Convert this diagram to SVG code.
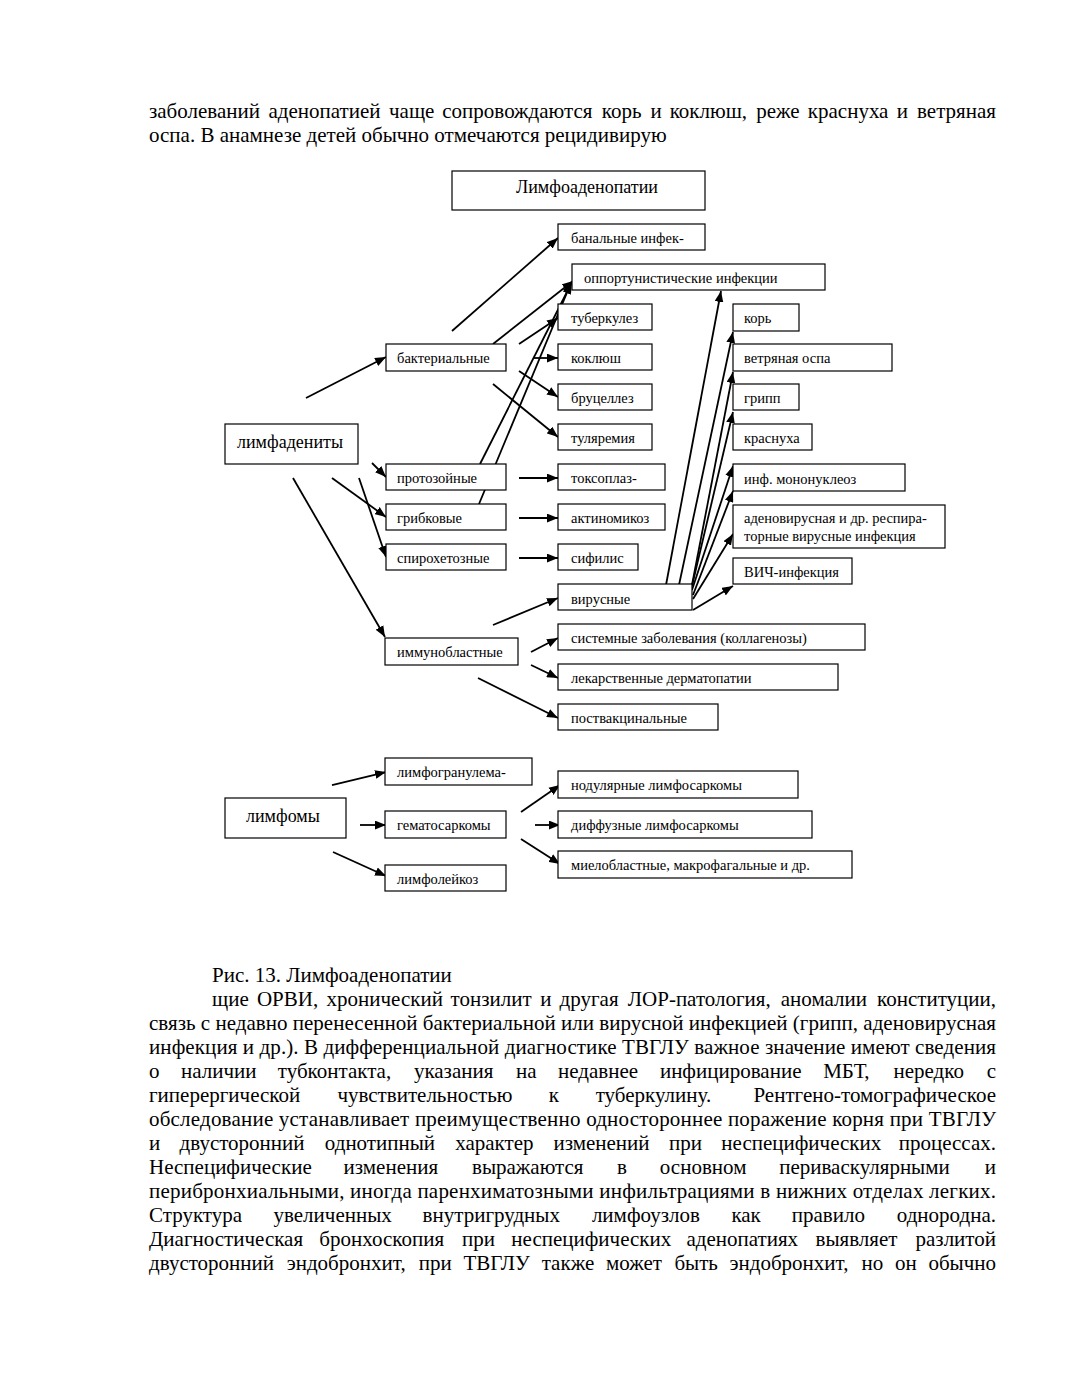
<svg xmlns="http://www.w3.org/2000/svg" width="1071" height="1386" viewBox="0 0 1071 1386">
<style>
.bx{fill:#fff;stroke:#000;stroke-width:1.2}
.lb{font-family:"Liberation Serif","Times New Roman",serif;font-size:14.5px;fill:#000}
.lb2{font-family:"Liberation Serif","Times New Roman",serif;font-size:18px;fill:#000}
.tx{font-family:"Liberation Serif","Times New Roman",serif;font-size:21px;fill:#000}
.e{text-anchor:end}
.cn line{stroke:#000;stroke-width:1.8;marker-end:url(#ah)}
</style>
<defs>
<marker id="ah" viewBox="0 0 10 8" refX="10" refY="4" markerWidth="11" markerHeight="9" markerUnits="userSpaceOnUse" orient="auto"><path d="M0,0 L10,4 L0,8 z" fill="#000"/></marker>
</defs>
<rect width="1071" height="1386" fill="#fff"/>

<g id="text-top" class="tx">
<text y="118"><tspan x="149">заболеваний</tspan><tspan x="268.4">аденопатией</tspan><tspan x="389">чаще</tspan><tspan x="442.3">сопровождаются</tspan><tspan x="601.8">корь</tspan><tspan x="650.5">и</tspan><tspan x="669.7">коклюш,</tspan><tspan x="756.2">реже</tspan><tspan x="807.8">краснуха</tspan><tspan x="896.7">и</tspan><tspan class="e" x="996">ветряная</tspan></text>
<text x="149" y="142">оспа. В анамнезе детей обычно отмечаются рецидивирую</text>
</g>

<g id="connectors" class="cn">
<line x1="452" y1="331" x2="558" y2="238"/>
<line x1="493" y1="344" x2="573" y2="281"/>
<line x1="519" y1="344" x2="558" y2="318"/>
<line x1="533" y1="358" x2="558" y2="358"/>
<line x1="519" y1="371" x2="558" y2="397"/>
<line x1="493" y1="384" x2="558" y2="437"/>
<line x1="480" y1="464" x2="572" y2="282"/>
<line x1="479" y1="504" x2="571" y2="283"/>
<line x1="306" y1="398" x2="386" y2="357"/>
<line x1="372" y1="463" x2="386" y2="477"/>
<line x1="332" y1="478" x2="386" y2="517"/>
<line x1="359" y1="478" x2="386" y2="557"/>
<line x1="293" y1="478" x2="385" y2="637"/>
<line x1="519" y1="478" x2="558" y2="478"/>
<line x1="519" y1="518" x2="558" y2="518"/>
<line x1="519" y1="558" x2="558" y2="558"/>
<line x1="493" y1="625" x2="558" y2="598"/>
<line x1="531" y1="652" x2="558" y2="638"/>
<line x1="531" y1="665" x2="558" y2="678"/>
<line x1="478" y1="678" x2="558" y2="718"/>
<line x1="666" y1="585" x2="721" y2="291"/>
<line x1="679" y1="585" x2="733" y2="332"/>
<line x1="692" y1="585" x2="733" y2="372"/>
<line x1="692" y1="586" x2="733" y2="412"/>
<line x1="692" y1="590" x2="733" y2="466"/>
<line x1="693" y1="595" x2="733" y2="491"/>
<line x1="693" y1="599" x2="733" y2="534"/>
<line x1="693" y1="610" x2="733" y2="586"/>
<line x1="332" y1="785" x2="386" y2="772"/>
<line x1="360" y1="825" x2="386" y2="825"/>
<line x1="333" y1="852" x2="386" y2="876"/>
<line x1="521" y1="812" x2="560" y2="785"/>
<line x1="535" y1="825" x2="560" y2="825"/>
<line x1="521" y1="839" x2="560" y2="864"/>
</g>

<g id="n-root"><rect class="bx" x="452" y="171" width="253" height="39"/><text class="lb2" x="516" y="193">Лимфоаденопатии</text></g>
<g id="n-banal"><rect class="bx" x="558" y="224" width="147" height="26"/><text class="lb" x="571" y="243">банальные инфек-</text></g>
<g id="n-opport"><rect class="bx" x="572" y="264" width="253" height="26"/><text class="lb" x="584" y="283">оппортунистические инфекции</text></g>
<g id="n-tuberk"><rect class="bx" x="558" y="304" width="94" height="26"/><text class="lb" x="571" y="323">туберкулез</text></g>
<g id="n-kokl"><rect class="bx" x="558" y="344" width="94" height="26"/><text class="lb" x="571" y="363">коклюш</text></g>
<g id="n-bruc"><rect class="bx" x="558" y="384" width="94" height="26"/><text class="lb" x="571" y="403">бруцеллез</text></g>
<g id="n-tular"><rect class="bx" x="558" y="424" width="94" height="26"/><text class="lb" x="571" y="443">туляремия</text></g>
<g id="n-toxo"><rect class="bx" x="558" y="464" width="107" height="26"/><text class="lb" x="571" y="483">токсоплаз-</text></g>
<g id="n-aktin"><rect class="bx" x="558" y="504" width="107" height="26"/><text class="lb" x="571" y="523">актиномикоз</text></g>
<g id="n-sifil"><rect class="bx" x="558" y="544" width="80" height="26"/><text class="lb" x="571" y="563">сифилис</text></g>
<g id="n-virus"><rect class="bx" x="558" y="584" width="134" height="26"/><text class="lb" x="571" y="604">вирусные</text></g>
<g id="n-sistem"><rect class="bx" x="558" y="624" width="307" height="26"/><text class="lb" x="571" y="643">системные заболевания (коллагенозы)</text></g>
<g id="n-lekar"><rect class="bx" x="558" y="664" width="280" height="26"/><text class="lb" x="571" y="683">лекарственные дерматопатии</text></g>
<g id="n-postvak"><rect class="bx" x="558" y="704" width="160" height="26"/><text class="lb" x="571" y="723">поствакцинальные</text></g>

<g id="n-kor"><rect class="bx" x="733" y="304" width="66" height="27"/><text class="lb" x="744" y="323">корь</text></g>
<g id="n-vetr"><rect class="bx" x="733" y="344" width="159" height="27"/><text class="lb" x="744" y="363">ветряная оспа</text></g>
<g id="n-gripp"><rect class="bx" x="733" y="384" width="66" height="26"/><text class="lb" x="744" y="403">грипп</text></g>
<g id="n-krasn"><rect class="bx" x="733" y="424" width="79" height="26"/><text class="lb" x="744" y="443">краснуха</text></g>
<g id="n-mono"><rect class="bx" x="733" y="464" width="172" height="27"/><text class="lb" x="744" y="484">инф. мононуклеоз</text></g>
<g id="n-adeno"><rect class="bx" x="733" y="505" width="212" height="43"/><text class="lb" x="744" y="523">аденовирусная и др. респира-</text><text class="lb" x="744" y="541">торные вирусные инфекция</text></g>
<g id="n-vich"><rect class="bx" x="733" y="558" width="119" height="26"/><text class="lb" x="744" y="577">ВИЧ-инфекция</text></g>

<g id="n-limfad"><rect class="bx" x="225" y="424" width="133" height="40"/><text class="lb2" x="237" y="448">лимфадениты</text></g>
<g id="n-bakt"><rect class="bx" x="386" y="344" width="120" height="27"/><text class="lb" x="397" y="363">бактериальные</text></g>
<g id="n-proto"><rect class="bx" x="386" y="464" width="120" height="26"/><text class="lb" x="397" y="483">протозойные</text></g>
<g id="n-grib"><rect class="bx" x="386" y="504" width="120" height="26"/><text class="lb" x="397" y="523">грибковые</text></g>
<g id="n-spiro"><rect class="bx" x="386" y="544" width="120" height="26"/><text class="lb" x="397" y="563">спирохетозные</text></g>
<g id="n-immuno"><rect class="bx" x="385" y="638" width="133" height="27"/><text class="lb" x="397" y="657">иммунобластные</text></g>

<g id="n-limfomy"><rect class="bx" x="225" y="798" width="121" height="40"/><text class="lb2" x="246" y="822">лимфомы</text></g>
<g id="n-limfogr"><rect class="bx" x="385" y="758" width="147" height="27"/><text class="lb" x="397" y="777">лимфогранулема-</text></g>
<g id="n-gemat"><rect class="bx" x="385" y="811" width="121" height="27"/><text class="lb" x="397" y="830">гематосаркомы</text></g>
<g id="n-limfol"><rect class="bx" x="385" y="865" width="121" height="26"/><text class="lb" x="397" y="884">лимфолейкоз</text></g>
<g id="n-nodul"><rect class="bx" x="558" y="771" width="240" height="27"/><text class="lb" x="571" y="790">нодулярные лимфосаркомы</text></g>
<g id="n-diff"><rect class="bx" x="558" y="811" width="254" height="27"/><text class="lb" x="571" y="830">диффузные лимфосаркомы</text></g>
<g id="n-mielo"><rect class="bx" x="558" y="851" width="294" height="27"/><text class="lb" x="571" y="870">миелобластные, макрофагальные и др.</text></g>

<g id="text-bottom" class="tx">
<text x="212" y="982">Рис. 13. Лимфоаденопатии</text>
<text y="1006"><tspan x="212">щие</tspan><tspan x="256.9">ОРВИ,</tspan><tspan x="326.5">хронический</tspan><tspan x="450.6">тонзилит</tspan><tspan x="540.2">и</tspan><tspan x="559.6">другая</tspan><tspan x="627.8">ЛОР-патология,</tspan><tspan x="780.8">аномалии</tspan><tspan class="e" x="996">конституции,</tspan></text>
<text x="149" y="1030" textLength="847" lengthAdjust="spacing">связь с недавно перенесенной бактериальной или вирусной инфекцией (грипп, аденовирусная</text>
<text x="149" y="1054" textLength="847" lengthAdjust="spacing">инфекция и др.). В дифференциальной диагностике ТВГЛУ важное значение имеют сведения</text>
<text y="1078"><tspan x="149">о</tspan><tspan x="181">наличии</tspan><tspan x="277.8">тубконтакта,</tspan><tspan x="413.9">указания</tspan><tspan x="515.9">на</tspan><tspan x="558">недавнее</tspan><tspan x="659.9">инфицирование</tspan><tspan x="823.2">МБТ,</tspan><tspan x="893.5">нередко</tspan><tspan class="e" x="996">с</tspan></text>
<text y="1102"><tspan x="149">гиперергической</tspan><tspan x="337.4">чувствительностью</tspan><tspan x="548.8">к</tspan><tspan x="595.7">туберкулину.</tspan><tspan class="e" x="996">Рентгено-томографическое</tspan></text>
<text x="149" y="1126" textLength="847" lengthAdjust="spacing">обследование устанавливает преимущественно одностороннее поражение корня при ТВГЛУ</text>
<text y="1150"><tspan x="149">и</tspan><tspan x="179.5">двусторонний</tspan><tspan x="324.8">однотипный</tspan><tspan x="455.2">характер</tspan><tspan x="553.4">изменений</tspan><tspan x="669.1">при</tspan><tspan x="721.3">неспецифических</tspan><tspan class="e" x="996">процессах.</tspan></text>
<text y="1174"><tspan x="149">Неспецифические</tspan><tspan x="343.6">изменения</tspan><tspan x="472">выражаются</tspan><tspan x="617">в</tspan><tspan x="659.8">основном</tspan><tspan x="779.2">периваскулярными</tspan><tspan class="e" x="996">и</tspan></text>
<text x="149" y="1198" textLength="847" lengthAdjust="spacing">перибронхиальными, иногда паренхиматозными инфильтрациями в нижних отделах легких.</text>
<text y="1222"><tspan x="149">Структура</tspan><tspan x="273.5">увеличенных</tspan><tspan x="422.6">внутригрудных</tspan><tspan x="591.9">лимфоузлов</tspan><tspan x="731.4">как</tspan><tspan x="791.7">правило</tspan><tspan class="e" x="996">однородна.</tspan></text>
<text y="1246"><tspan x="149">Диагностическая</tspan><tspan x="319.3">бронхоскопия</tspan><tspan x="462.1">при</tspan><tspan x="511.3">неспецифических</tspan><tspan x="686.4">аденопатиях</tspan><tspan x="815.5">выявляет</tspan><tspan class="e" x="996">разлитой</tspan></text>
<text y="1270"><tspan x="149">двусторонний</tspan><tspan x="286.7">эндобронхит,</tspan><tspan x="418.7">при</tspan><tspan x="463.4">ТВГЛУ</tspan><tspan x="541.7">также</tspan><tspan x="605.9">может</tspan><tspan x="674.4">быть</tspan><tspan x="729.5">эндобронхит,</tspan><tspan x="861.5">но</tspan><tspan x="894.9">он</tspan><tspan class="e" x="996">обычно</tspan></text>
</g>
</svg>
